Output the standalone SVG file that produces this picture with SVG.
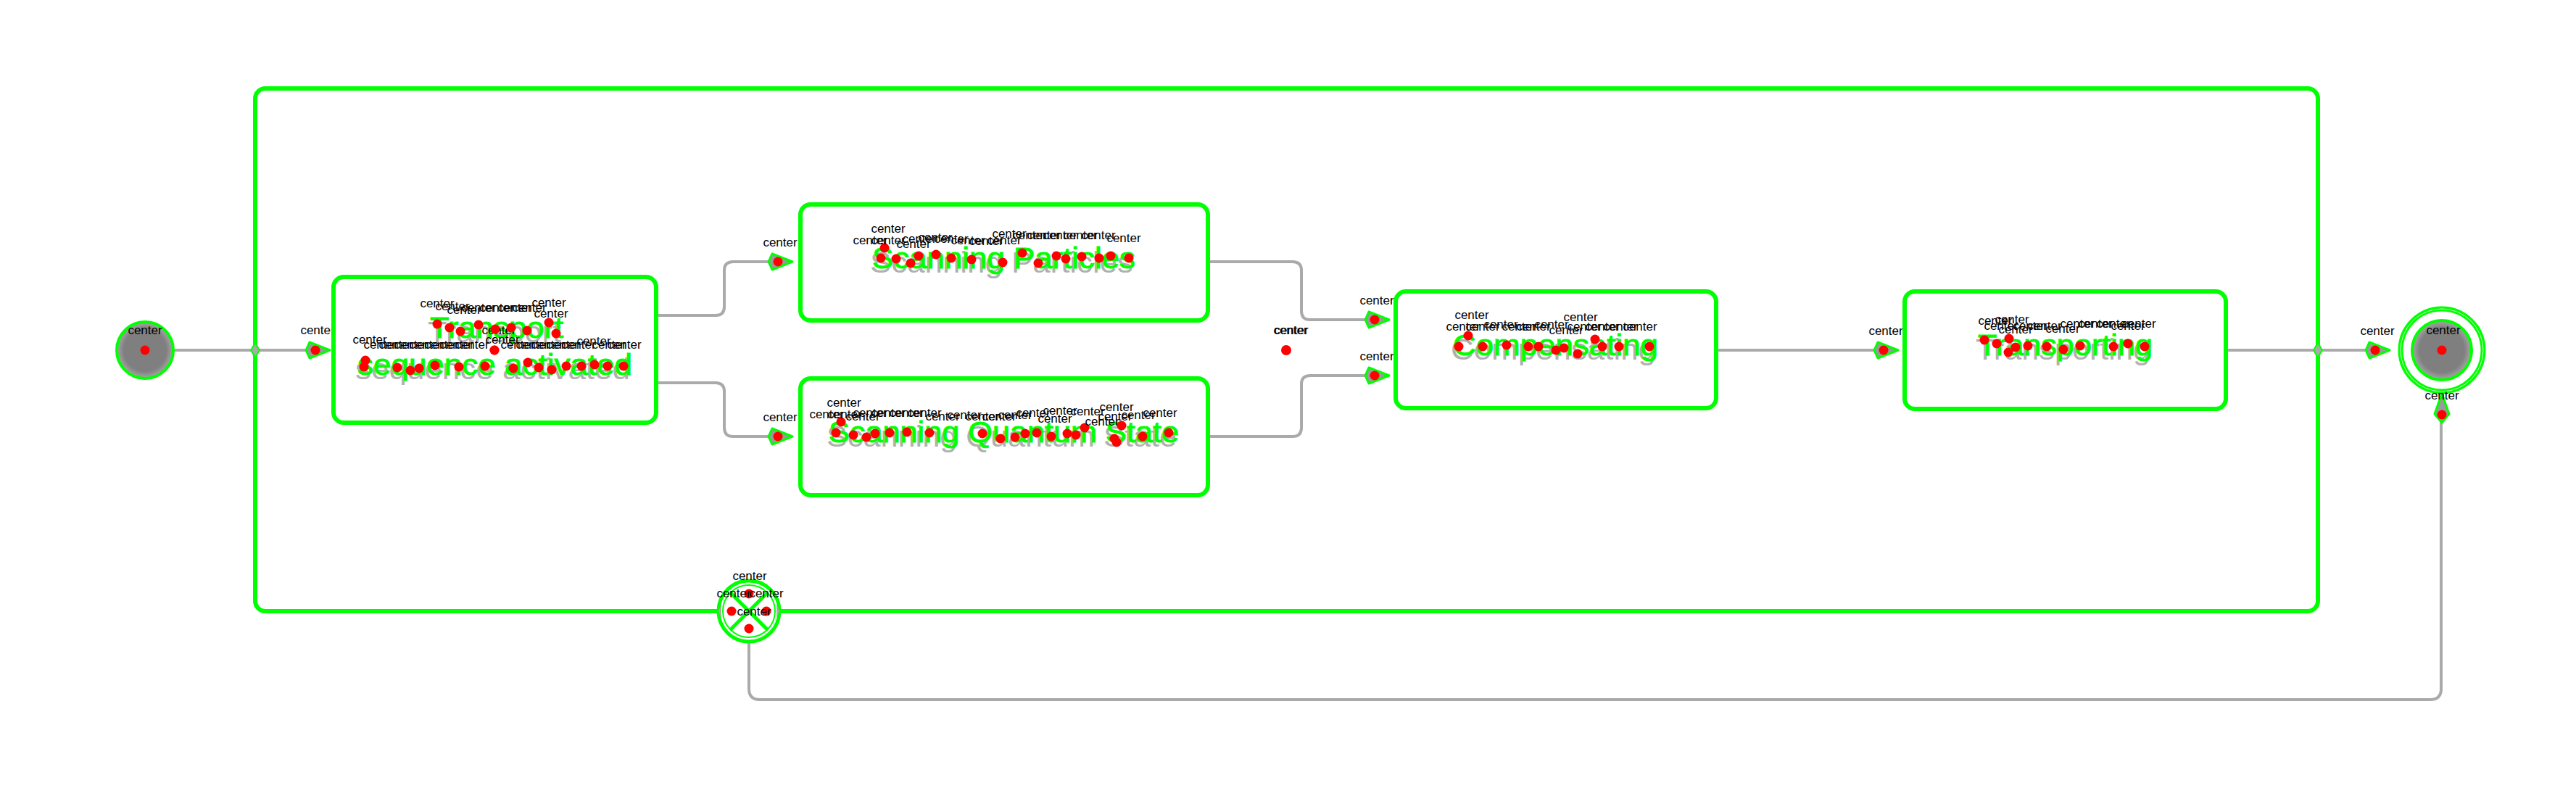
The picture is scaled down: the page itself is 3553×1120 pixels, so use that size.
<svg xmlns="http://www.w3.org/2000/svg" width="3553" height="1120" viewBox="0 0 3553 1120">
<style>
.c{font-family:"Liberation Sans",Arial,sans-serif;font-size:17px;fill:#000;text-anchor:middle}
.d{fill:#ff0000}
.lb{font-family:"Liberation Sans",Arial,sans-serif;font-size:40px;fill:#00ff00;stroke:#00ff00;stroke-width:1}
.sh{font-family:"Liberation Sans",Arial,sans-serif;font-size:40px;fill:#b0b0b0}
.box{fill:#fff;stroke:#00ff00;stroke-width:6}
.conn{fill:none;stroke:#aaaaaa;stroke-width:4;stroke-linecap:round}
.arr{fill:#9a9a9a;stroke:#00ff00;stroke-width:3;stroke-linejoin:round}
.jn{fill:#aaa;stroke:#00ff00;stroke-width:2}
</style>
<defs>
<radialGradient id="gfill" cx="0.5" cy="0.5" r="0.5">
<stop offset="0.75" stop-color="#7f7f7f"/>
<stop offset="1" stop-color="#a8a8a8"/>
</radialGradient>
<g id="arrow">
<polygon class="arr" points="0,0 -28,-11 -33,0 -28,11"/>
<circle class="d" cx="-20" cy="0" r="6.5"/>
</g>
</defs>

<g id="connectors">
<path class="conn" d="M241,483 H422"/>
<path class="conn" d="M905,435 H987 Q999,435 999,423 V373 Q999,361 1011,361 H1062"/>
<path class="conn" d="M905,528 H987 Q999,528 999,540 V590 Q999,602 1011,602 H1062"/>
<path class="conn" d="M1666,361 H1783 Q1795,361 1795,373 V429 Q1795,441 1807,441 H1883"/>
<path class="conn" d="M1666,602 H1783 Q1795,602 1795,590 V530 Q1795,518 1807,518 H1883"/>
<path class="conn" d="M2367,483 H2586"/>
<path class="conn" d="M3070,483 H3268"/>
<path class="conn" d="M1033,887 V950 Q1033,965 1048,965 H3352 Q3367,965 3367,950 V583"/>
<text class="c" x="438" y="461">center</text>
<use href="#arrow" x="455" y="483"/>
<text class="c" x="1076" y="340">center</text>
<use href="#arrow" x="1093" y="361"/>
<text class="c" x="1076" y="581">center</text>
<use href="#arrow" x="1093" y="602"/>
<text class="c" x="1899" y="420">center</text>
<use href="#arrow" x="1916" y="441"/>
<text class="c" x="1899" y="497">center</text>
<use href="#arrow" x="1916" y="518"/>
<text class="c" x="2601" y="462">center</text>
<use href="#arrow" x="2618" y="483"/>
<text class="c" x="3279" y="462">center</text>
<use href="#arrow" x="3296" y="483"/>
</g>

<g id="container">
<rect x="352" y="122" width="2845" height="721" rx="14" fill="none" stroke="#00ff00" stroke-width="6"/>
<polygon class="jn" points="352,473 358,483 352,493 346,483"/>
<polygon class="jn" points="3197,473 3203,483 3197,493 3191,483"/>
</g>

<g id="initial">
<circle cx="200" cy="483" r="39" fill="url(#gfill)" stroke="#00ff00" stroke-width="4"/>
<text class="c" x="200" y="461">center</text>
<circle class="d" cx="200" cy="483" r="6.5"/>
</g>

<g id="fork">
<text class="c" x="1780" y="461">center</text>
<text class="c" x="1781" y="461">center</text>
<circle class="d" cx="1774" cy="483" r="7"/>
</g>

<g id="transport">
<rect class="box" x="460" y="382" width="445" height="201" rx="14"/>
<text class="sh" x="590" y="472" textLength="184" lengthAdjust="spacingAndGlyphs">Transport</text>
<text class="lb" x="593" y="466" textLength="184" lengthAdjust="spacingAndGlyphs">Transport</text>
<text class="sh" x="490" y="523" textLength="379" lengthAdjust="spacingAndGlyphs">sequence activated</text>
<text class="lb" x="493" y="517" textLength="379" lengthAdjust="spacingAndGlyphs">sequence activated</text>
<text class="c" x="688" y="461">center</text>
<circle class="d" cx="682" cy="483" r="6.5"/>
<g>
<text class="c" x="603" y="424">center</text><circle class="d" cx="603" cy="447" r="6.5"/>
<text class="c" x="624" y="428">center</text><circle class="d" cx="620" cy="452" r="6.5"/>
<text class="c" x="640" y="433">center</text><circle class="d" cx="635" cy="457" r="6.5"/>
<text class="c" x="660" y="430">center</text><circle class="d" cx="660" cy="448" r="6.5"/>
<text class="c" x="685" y="430">center</text><circle class="d" cx="683" cy="454" r="6.5"/>
<text class="c" x="710" y="430">center</text><circle class="d" cx="705" cy="452" r="6.5"/>
<text class="c" x="730" y="430">center</text><circle class="d" cx="727" cy="456" r="6.5"/>
<text class="c" x="757" y="423">center</text><circle class="d" cx="757" cy="445" r="6.5"/>
<text class="c" x="760" y="438">center</text><circle class="d" cx="767" cy="460" r="6.5"/>
</g>
<g>
<text class="c" x="510" y="474">center</text><circle class="d" cx="504" cy="497" r="6.5"/>
<text class="c" x="525" y="481">center</text><circle class="d" cx="502" cy="506" r="6.5"/>
<text class="c" x="546" y="481">center</text><circle class="d" cx="548" cy="507" r="6.5"/>
<text class="c" x="567" y="481">center</text><circle class="d" cx="566" cy="511" r="6.5"/>
<text class="c" x="588" y="481">center</text><circle class="d" cx="578" cy="508" r="6.5"/>
<text class="c" x="609" y="481">center</text><circle class="d" cx="600" cy="504" r="6.5"/>
<text class="c" x="630" y="481">center</text><circle class="d" cx="633" cy="506" r="6.5"/>
<text class="c" x="651" y="481">center</text><circle class="d" cx="669" cy="505" r="6.5"/>
<circle class="d" cx="682" cy="483" r="6.5"/>
<text class="c" x="693" y="474">center</text><circle class="d" cx="708" cy="508" r="6.5"/>
<text class="c" x="714" y="481">center</text><circle class="d" cx="728" cy="500" r="6.5"/>
<text class="c" x="735" y="481">center</text><circle class="d" cx="743" cy="507" r="6.5"/>
<text class="c" x="756" y="481">center</text><circle class="d" cx="761" cy="510" r="6.5"/>
<text class="c" x="777" y="481">center</text><circle class="d" cx="781" cy="505" r="6.5"/>
<text class="c" x="798" y="481">center</text><circle class="d" cx="802" cy="505" r="6.5"/>
<text class="c" x="819" y="476">center</text><circle class="d" cx="820" cy="503" r="6.5"/>
<text class="c" x="840" y="481">center</text><circle class="d" cx="838" cy="505" r="6.5"/>
<text class="c" x="861" y="481">center</text><circle class="d" cx="860" cy="505" r="6.5"/>
</g>
</g>

<g id="scanning-particles">
<rect class="box" x="1104" y="282" width="562" height="160" rx="14"/>
<text class="sh" x="1200" y="376" textLength="363" lengthAdjust="spacingAndGlyphs">Scanning Particles</text>
<text class="lb" x="1203" y="370" textLength="363" lengthAdjust="spacingAndGlyphs">Scanning Particles</text>
<text class="c" x="1225" y="321">center</text><circle class="d" cx="1220" cy="342" r="6.5"/>
<text class="c" x="1200" y="337">center</text><circle class="d" cx="1215" cy="356" r="6.5"/>
<text class="c" x="1225" y="337">center</text><circle class="d" cx="1236" cy="357" r="6.5"/>
<text class="c" x="1260" y="342">center</text><circle class="d" cx="1256" cy="363" r="6.5"/>
<text class="c" x="1268" y="335">center</text><circle class="d" cx="1267" cy="353" r="6.5"/>
<text class="c" x="1290" y="333">center</text><circle class="d" cx="1291" cy="351" r="6.5"/>
<text class="c" x="1312" y="335">center</text><circle class="d" cx="1312" cy="356" r="6.5"/>
<text class="c" x="1335" y="337">center</text><circle class="d" cx="1340" cy="358" r="6.5"/>
<text class="c" x="1360" y="338">center</text><circle class="d" cx="1383" cy="362" r="6.5"/>
<text class="c" x="1385" y="337">center</text><circle class="d" cx="1410" cy="349" r="6.5"/>
<text class="c" x="1392" y="328">center</text><circle class="d" cx="1432" cy="363" r="6.5"/>
<text class="c" x="1420" y="330">center</text><circle class="d" cx="1457" cy="353" r="6.5"/>
<text class="c" x="1440" y="330">center</text><circle class="d" cx="1470" cy="357" r="6.5"/>
<text class="c" x="1462" y="330">center</text><circle class="d" cx="1492" cy="354" r="6.5"/>
<text class="c" x="1490" y="330">center</text><circle class="d" cx="1516" cy="356" r="6.5"/>
<text class="c" x="1515" y="330">center</text><circle class="d" cx="1532" cy="353" r="6.5"/>
<text class="c" x="1550" y="334">center</text><circle class="d" cx="1557" cy="356" r="6.5"/>
</g>

<g id="scanning-quantum-state">
<rect class="box" x="1104" y="522" width="562" height="161" rx="14"/>
<text class="sh" x="1140" y="616" textLength="483" lengthAdjust="spacingAndGlyphs">Scanning Quantum State</text>
<text class="lb" x="1143" y="610" textLength="483" lengthAdjust="spacingAndGlyphs">Scanning Quantum State</text>
<text class="c" x="1164" y="561">center</text><circle class="d" cx="1160" cy="582" r="6.5"/>
<text class="c" x="1140" y="577">center</text><circle class="d" cx="1153" cy="597" r="6.5"/>
<text class="c" x="1165" y="577">center</text><circle class="d" cx="1177" cy="600" r="6.5"/>
<text class="c" x="1190" y="580">center</text><circle class="d" cx="1195" cy="603" r="6.5"/>
<text class="c" x="1200" y="575">center</text><circle class="d" cx="1207" cy="598" r="6.5"/>
<text class="c" x="1225" y="575">center</text><circle class="d" cx="1227" cy="597" r="6.5"/>
<text class="c" x="1250" y="575">center</text><circle class="d" cx="1251" cy="596" r="6.5"/>
<text class="c" x="1275" y="575">center</text><circle class="d" cx="1282" cy="597" r="6.5"/>
<text class="c" x="1300" y="580">center</text><circle class="d" cx="1355" cy="598" r="6.5"/>
<text class="c" x="1330" y="578">center</text><circle class="d" cx="1380" cy="605" r="6.5"/>
<text class="c" x="1355" y="580">center</text><circle class="d" cx="1400" cy="603" r="6.5"/>
<text class="c" x="1378" y="580">center</text><circle class="d" cx="1414" cy="598" r="6.5"/>
<text class="c" x="1400" y="578">center</text><circle class="d" cx="1430" cy="597" r="6.5"/>
<text class="c" x="1425" y="575">center</text><circle class="d" cx="1450" cy="602" r="6.5"/>
<text class="c" x="1455" y="583">center</text><circle class="d" cx="1472" cy="598" r="6.5"/>
<text class="c" x="1462" y="572">center</text><circle class="d" cx="1484" cy="600" r="6.5"/>
<text class="c" x="1500" y="573">center</text><circle class="d" cx="1496" cy="590" r="6.5"/>
<text class="c" x="1540" y="567">center</text><circle class="d" cx="1547" cy="587" r="6.5"/>
<text class="c" x="1538" y="580">center</text><circle class="d" cx="1540" cy="610" r="6.5"/>
<text class="c" x="1520" y="587">center</text><circle class="d" cx="1537" cy="605" r="6.5"/>
<text class="c" x="1570" y="578">center</text><circle class="d" cx="1576" cy="602" r="6.5"/>
<text class="c" x="1600" y="575">center</text><circle class="d" cx="1612" cy="597" r="6.5"/>
</g>

<g id="compensating">
<rect class="box" x="1925" y="402" width="442" height="161" rx="14"/>
<text class="sh" x="2001" y="496" textLength="283" lengthAdjust="spacingAndGlyphs">Compensating</text>
<text class="lb" x="2004" y="490" textLength="283" lengthAdjust="spacingAndGlyphs">Compensating</text>
<text class="c" x="2030" y="440">center</text><circle class="d" cx="2025" cy="463" r="6.5"/>
<text class="c" x="2018" y="456">center</text><circle class="d" cx="2012" cy="478" r="6.5"/>
<text class="c" x="2045" y="456">center</text><circle class="d" cx="2045" cy="478" r="6.5"/>
<text class="c" x="2070" y="453">center</text><circle class="d" cx="2078" cy="476" r="6.5"/>
<text class="c" x="2095" y="456">center</text><circle class="d" cx="2108" cy="478" r="6.5"/>
<text class="c" x="2115" y="456">center</text><circle class="d" cx="2122" cy="478" r="6.5"/>
<text class="c" x="2140" y="453">center</text><circle class="d" cx="2146" cy="483" r="6.5"/>
<text class="c" x="2160" y="461">center</text><circle class="d" cx="2157" cy="480" r="6.5"/>
<text class="c" x="2180" y="443">center</text><circle class="d" cx="2176" cy="488" r="6.5"/>
<text class="c" x="2185" y="456">center</text><circle class="d" cx="2200" cy="468" r="6.5"/>
<text class="c" x="2210" y="456">center</text><circle class="d" cx="2210" cy="478" r="6.5"/>
<text class="c" x="2235" y="456">center</text><circle class="d" cx="2233" cy="478" r="6.5"/>
<text class="c" x="2262" y="456">center</text><circle class="d" cx="2275" cy="478" r="6.5"/>
</g>

<g id="transporting">
<rect class="box" x="2627" y="402" width="443" height="162" rx="14"/>
<text class="sh" x="2725" y="496" textLength="241" lengthAdjust="spacingAndGlyphs">Transporting</text>
<text class="lb" x="2728" y="490" textLength="241" lengthAdjust="spacingAndGlyphs">Transporting</text>
<text class="c" x="2752" y="448">center</text><circle class="d" cx="2737" cy="469" r="6.5"/>
<text class="c" x="2775" y="446">center</text><circle class="d" cx="2754" cy="474" r="6.5"/>
<text class="c" x="2760" y="455">center</text><circle class="d" cx="2771" cy="467" r="6.5"/>
<text class="c" x="2780" y="460">center</text><circle class="d" cx="2770" cy="486" r="6.5"/>
<text class="c" x="2800" y="455">center</text><circle class="d" cx="2780" cy="479" r="6.5"/>
<text class="c" x="2820" y="455">center</text><circle class="d" cx="2797" cy="477" r="6.5"/>
<text class="c" x="2845" y="459">center</text><circle class="d" cx="2823" cy="478" r="6.5"/>
<text class="c" x="2865" y="452">center</text><circle class="d" cx="2846" cy="482" r="6.5"/>
<text class="c" x="2890" y="452">center</text><circle class="d" cx="2869" cy="477" r="6.5"/>
<text class="c" x="2915" y="452">center</text><circle class="d" cx="2915" cy="478" r="6.5"/>
<text class="c" x="2935" y="455">center</text><circle class="d" cx="2935" cy="474" r="6.5"/>
<text class="c" x="2950" y="452">center</text><circle class="d" cx="2958" cy="478" r="6.5"/>
</g>

<g id="final">
<circle cx="3368" cy="483" r="57" fill="#fff" stroke="#00ff00" stroke-width="7"/>
<circle cx="3368" cy="483" r="57" fill="none" stroke="#d0ffd0" stroke-width="1"/>
<circle cx="3368" cy="483" r="41" fill="url(#gfill)" stroke="#00ff00" stroke-width="4"/>
<text class="c" x="3370" y="461">center</text>
<circle class="d" cx="3368" cy="483" r="6.5"/>
<polygon class="arr" points="3368,543 3358,571 3368,583 3378,571"/>
<circle class="d" cx="3368" cy="572" r="6.5"/>
<text class="c" x="3368" y="551">center</text>
</g>

<g id="gateway">
<circle cx="1033" cy="843" r="42" fill="#fff" stroke="#00ff00" stroke-width="5"/>
<circle cx="1033" cy="843" r="36" fill="none" stroke="#00ff00" stroke-width="2"/>
<line x1="1007" y1="817" x2="1059" y2="869" stroke="#00ff00" stroke-width="5"/>
<line x1="1059" y1="817" x2="1007" y2="869" stroke="#00ff00" stroke-width="5"/>
<polygon points="991,843 995,833 995,853" fill="#aaa"/>
<polygon points="1075,843 1071,833 1071,853" fill="#aaa"/>
<circle class="d" cx="1033" cy="819" r="6.5"/>
<circle class="d" cx="1009" cy="843" r="6.5"/>
<circle class="d" cx="1057" cy="843" r="6.5"/>
<circle class="d" cx="1033" cy="867" r="6.5"/>
<text class="c" x="1034" y="800">center</text>
<text class="c" x="1012" y="824">center</text>
<text class="c" x="1057" y="824">center</text>
<text class="c" x="1040" y="849">center</text>
</g>
</svg>
